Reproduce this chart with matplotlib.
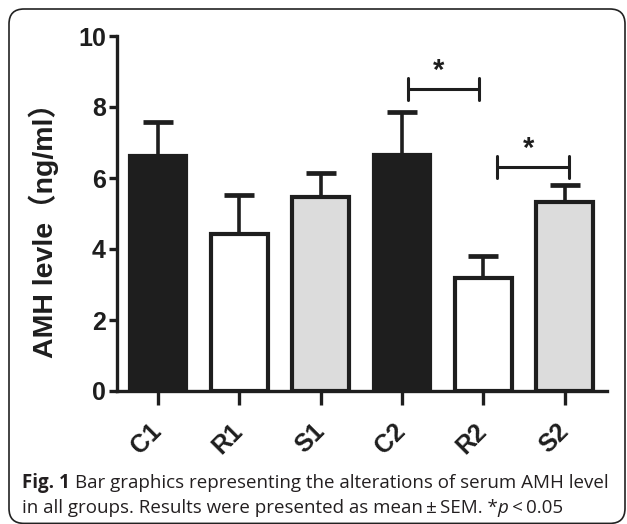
import numpy as np
import matplotlib
matplotlib.use("Agg")
import matplotlib.pyplot as plt
from matplotlib.patches import FancyBboxPatch
from matplotlib.transforms import ScaledTranslation

plt.rcParams['font.family'] = ['Liberation Sans', 'Noto Sans CJK SC', 'DejaVu Sans']

# data
groups = ['C1', 'R1', 'S1', 'C2', 'R2', 'S2']
means = [6.62, 4.42, 5.46, 6.65, 3.18, 5.32]
sem = [0.96, 1.10, 0.68, 1.21, 0.62, 0.48]
fills = ['#1e1e1e', 'white', '#dcdcdc', '#1e1e1e', 'white', '#dcdcdc']

# significance brackets: (x start, x end, height)
brackets = [(3.07, 3.95, 8.51), (4.17, 5.05, 6.31)]
bracket_labels = ['*', '*']

ink = '#1e1e1e'

fig = plt.figure(figsize=(6.27, 5.24), dpi=100)
ax = fig.add_axes([117/627, 1 - 391/524, 490/627, 355/524])

x = np.arange(len(groups))
ax.errorbar(x, means, yerr=[np.zeros(len(sem)), sem], fmt='none',
            ecolor=ink, elinewidth=2.6, capsize=11, capthick=3.4, zorder=1)
ax.bar(x, means, width=0.7, color=fills, edgecolor=ink, linewidth=3.0, zorder=2)

# brackets with stars
for (x0, x1, h), lab in zip(brackets, bracket_labels):
    ax.plot([x0, x1], [h, h], color=ink, lw=2.2, solid_capstyle='butt')
    ax.plot([x0, x0], [h - 0.31, h + 0.31], color=ink, lw=2.2, solid_capstyle='round')
    ax.plot([x1, x1], [h - 0.31, h + 0.31], color=ink, lw=2.2, solid_capstyle='round')
    ax.text((x0 + x1) / 2 - 0.06, h + 0.12, lab, ha='center', va='bottom',
            fontsize=21, fontweight='bold', color=ink)

ax.set_xlim(-0.504, 5.52)
ax.set_ylim(0, 10)
ax.set_yticks([0, 2, 4, 6, 8, 10])
ax.set_xticks(x)
ax.set_xticklabels(groups, rotation=45, ha='right', va='center',
                   rotation_mode='anchor', fontsize=18, fontweight='bold', color=ink)
for lbl in ax.get_xticklabels():
    lbl.set_transform(lbl.get_transform() + ScaledTranslation(0.06, 0, fig.dpi_scale_trans))
for lbl in ax.get_yticklabels():
    lbl.set_fontsize(18)
    lbl.set_fontweight('bold')
    lbl.set_color(ink)

for s in ['top', 'right']:
    ax.spines[s].set_visible(False)
for s in ['left', 'bottom']:
    ax.spines[s].set_linewidth(2.4)
    ax.spines[s].set_color(ink)
ax.tick_params(axis='y', length=6, width=2.4, color=ink, pad=2)
ax.tick_params(axis='x', length=10, width=2.4, color=ink, pad=16)

fig.text(44/627, 1 - 224/524, 'AMH levle（ng/ml）', rotation=90, ha='center', va='center',
         fontsize=20.5, fontweight='bold', color=ink)

# rounded frame
frame = FancyBboxPatch((0.09, 0.006), 6.16, 5.144, boxstyle='round,pad=0,rounding_size=0.15',
                       transform=fig.dpi_scale_trans, fill=False, edgecolor='#222222',
                       linewidth=1.2)
fig.patches.append(frame)

# caption
cap_font = 'Open Sans'
cap_size = 13.5
renderer = fig.canvas.get_renderer()


def put_pieces(x0, y0, pieces):
    xx = x0
    for txt, kw in pieces:
        t = fig.text(xx, y0, txt, va='baseline', ha='left', fontsize=cap_size,
                     family=cap_font, color='#231f20', **kw)
        bb = t.get_window_extent(renderer=renderer)
        xx += bb.width / fig.bbox.width


put_pieces(22/627, 1 - 488/524, [('Fig. 1 ', dict(fontweight='bold')),
                                 ('Bar graphics representing the alterations of serum AMH level', {})])
put_pieces(22/627, 1 - 513/524, [('in all groups. Results were presented as mean\u2009±\u2009SEM. *', {}),
                                 ('p', dict(style='italic')),
                                 ('\u2009<\u20090.05', {})])

fig.savefig('out.png', dpi=100)
